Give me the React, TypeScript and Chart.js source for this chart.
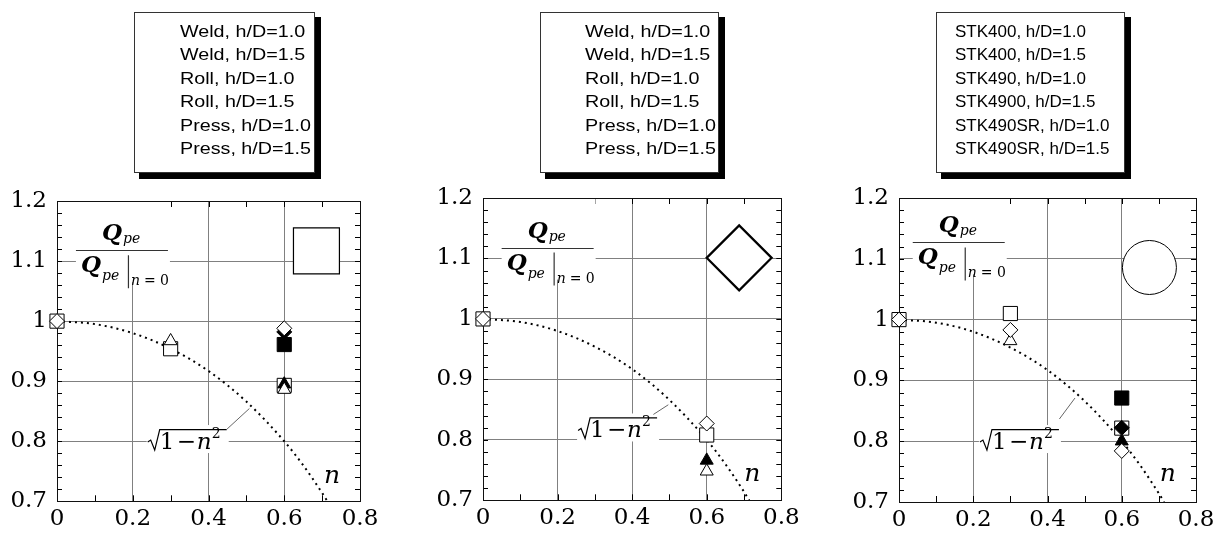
import React, { useEffect, useRef } from 'react';
import { Chart, registerables } from 'chart.js';

Chart.register(...registerables);

// ---------- axes ----------
const X_MIN = 0;
const X_MAX = 0.8;
const X_STEP = 0.2;
const X_MINOR = 0.1;
const Y_MIN = 0.7;
const Y_MAX = 1.2;
const Y_STEP = 0.1;
const Y_MINOR = 0.02;

// ---------- reference curve sqrt(1-n^2) ----------
const CURVE_N = [0, 0.1, 0.2, 0.3, 0.4, 0.5, 0.6, 0.65, 0.7, 0.714];
const CURVE_Q = [1.0, 0.995, 0.98, 0.954, 0.917, 0.866, 0.8, 0.76, 0.714, 0.7];

// ---------- panel 1 (square section) ----------
const P1_LEGEND = ['Weld, h/D=1.0', 'Weld, h/D=1.5', 'Roll, h/D=1.0', 'Roll, h/D=1.5', 'Press, h/D=1.0', 'Press, h/D=1.5'];
const P1_SQ_OPEN_N = [0, 0.3, 0.6];
const P1_SQ_OPEN_Q = [1.0, 0.954, 0.893];
const P1_SQ_FILL_N = [0.6];
const P1_SQ_FILL_Q = [0.961];
const P1_DI_OPEN_N = [0, 0.6];
const P1_DI_OPEN_Q = [1.0, 0.988];
const P1_DI_FILL_N = [0.6];
const P1_DI_FILL_Q = [0.982];
const P1_TR_OPEN_N = [0.3, 0.6];
const P1_TR_OPEN_Q = [0.967, 0.886];
const P1_TR_FILL_N = [0.6];
const P1_TR_FILL_Q = [0.895];

// ---------- panel 2 (diamond section) ----------
const P2_LEGEND = ['Weld, h/D=1.0', 'Weld, h/D=1.5', 'Roll, h/D=1.0', 'Roll, h/D=1.5', 'Press, h/D=1.0', 'Press, h/D=1.5'];
const P2_SQ_OPEN_N = [0, 0.6];
const P2_SQ_OPEN_Q = [1.0, 0.808];
const P2_SQ_FILL_N: number[] = [];
const P2_SQ_FILL_Q: number[] = [];
const P2_DI_OPEN_N = [0, 0.6];
const P2_DI_OPEN_Q = [1.0, 0.827];
const P2_DI_FILL_N: number[] = [];
const P2_DI_FILL_Q: number[] = [];
const P2_TR_OPEN_N = [0.6];
const P2_TR_OPEN_Q = [0.748];
const P2_TR_FILL_N = [0.6];
const P2_TR_FILL_Q = [0.766];

// ---------- panel 3 (circular section) ----------
const P3_LEGEND = ['STK400, h/D=1.0', 'STK400, h/D=1.5', 'STK490, h/D=1.0', 'STK4900, h/D=1.5', 'STK490SR, h/D=1.0', 'STK490SR, h/D=1.5'];
const P3_SQ_OPEN_N = [0, 0.3, 0.6];
const P3_SQ_OPEN_Q = [1.0, 1.01, 0.8215];
const P3_SQ_FILL_N = [0.6];
const P3_SQ_FILL_Q = [0.871];
const P3_DI_OPEN_N = [0, 0.3, 0.6];
const P3_DI_OPEN_Q = [1.0, 0.983, 0.784];
const P3_DI_FILL_N = [0.6];
const P3_DI_FILL_Q = [0.822];
const P3_TR_OPEN_N = [0.3];
const P3_TR_OPEN_Q = [0.965];
const P3_TR_FILL_N = [0.6];
const P3_TR_FILL_Q = [0.8];

// ---------- marker styles (series order: open sq, filled sq, open diamond, filled diamond, open tri, filled tri) ----------
const MARKERS = [
  { style: 'rect', r: 10, fill: false },
  { style: 'rect', r: 10, fill: true },
  { style: 'rectRot', r: 7.5, fill: false },
  { style: 'rectRot', r: 7.5, fill: true },
  { style: 'triangle', r: 7.5, fill: false },
  { style: 'triangle', r: 7.5, fill: true },
];

const SERIF = '"DejaVu Serif"';

const PANELS = [
  {
    left: 0,
    yw: 57, pr: 48, pt: 201, xh: 32,
    legend: { x: 134, y: 12, w: 180, h: 160, tx: 180, sx: 1.16, labels: P1_LEGEND },
    series: [
      [P1_SQ_OPEN_N, P1_SQ_OPEN_Q], [P1_SQ_FILL_N, P1_SQ_FILL_Q],
      [P1_DI_OPEN_N, P1_DI_OPEN_Q], [P1_DI_FILL_N, P1_DI_FILL_Q],
      [P1_TR_OPEN_N, P1_TR_OPEN_Q], [P1_TR_FILL_N, P1_TR_FILL_Q],
    ],
    drawOrder: [2, 3, 4, 5, 0, 1],
    shape: { style: 'rect', n: 0.685, q: 1.117, r: 32.5, bw: 1.2 },
    frac: [0.05, 1.118],
    rad: [0.2395, 0.8203],
    leader: [0.449, 0.8203, 0.508, 0.8545],
    nLabel: [0.726, 0.742],
  },
  {
    left: 408,
    yw: 75, pr: 29, pt: 198, xh: 33,
    legend: { x: 132, y: 12, w: 178, h: 160, tx: 177, sx: 1.16, labels: P2_LEGEND },
    series: [
      [P2_SQ_OPEN_N, P2_SQ_OPEN_Q], [P2_SQ_FILL_N, P2_SQ_FILL_Q],
      [P2_DI_OPEN_N, P2_DI_OPEN_Q], [P2_DI_FILL_N, P2_DI_FILL_Q],
      [P2_TR_OPEN_N, P2_TR_OPEN_Q], [P2_TR_FILL_N, P2_TR_FILL_Q],
    ],
    drawOrder: [2, 0, 1, 3, 4, 5],
    shape: { style: 'rectRot', n: 0.687, q: 1.101, r: 32.5, bw: 2.2 },
    frac: [0.05, 1.118],
    rad: [0.255, 0.837],
    leader: [0.457, 0.842, 0.497, 0.858],
    nLabel: [0.722, 0.743],
  },
  {
    left: 816,
    yw: 83, pr: 22, pt: 198, xh: 33,
    legend: { x: 120, y: 12, w: 188, h: 160, tx: 139, sx: 1.0, labels: P3_LEGEND },
    series: [
      [P3_SQ_OPEN_N, P3_SQ_OPEN_Q], [P3_SQ_FILL_N, P3_SQ_FILL_Q],
      [P3_DI_OPEN_N, P3_DI_OPEN_Q], [P3_DI_FILL_N, P3_DI_FILL_Q],
      [P3_TR_OPEN_N, P3_TR_OPEN_Q], [P3_TR_FILL_N, P3_TR_FILL_Q],
    ],
    drawOrder: [3, 2, 0, 5, 4, 1],
    shape: { style: 'circle', n: 0.6745, q: 1.0857, r: 27, bw: 1 },
    frac: [0.037, 1.127],
    rad: [0.218, 0.82],
    leader: [0.432, 0.8365, 0.474, 0.871],
    nLabel: [0.724, 0.745],
  },
];

function fmt(v: number) {
  return String(Number(v.toFixed(2)));
}

function drawFraction(ctx: CanvasRenderingContext2D, fx: number, fy: number, top: number) {
  ctx.fillStyle = '#fff';
  ctx.fillRect(fx, top + 1, 94, fy + 32 - top - 1);
  ctx.strokeStyle = '#333';
  ctx.lineWidth = 1;
  ctx.beginPath();
  ctx.moveTo(fx, Math.round(fy) + 0.5);
  ctx.lineTo(fx + 92, Math.round(fy) + 0.5);
  ctx.stroke();
  ctx.fillStyle = '#000';
  ctx.textAlign = 'left';
  ctx.textBaseline = 'alphabetic';
  ctx.font = `bold italic 23px ${SERIF}`;
  ctx.fillText('Q', fx + 26, fy - 10);
  ctx.font = `italic 14px ${SERIF}`;
  ctx.fillText('pe', fx + 47, fy - 7);
  ctx.font = `bold italic 23px ${SERIF}`;
  ctx.fillText('Q', fx + 5, fy + 22);
  ctx.font = `italic 14px ${SERIF}`;
  ctx.fillText('pe', fx + 26, fy + 30);
  ctx.lineWidth = 1.2;
  ctx.beginPath();
  ctx.moveTo(fx + 52.5, fy + 5);
  ctx.lineTo(fx + 52.5, fy + 38);
  ctx.stroke();
  ctx.font = `italic 14px ${SERIF}`;
  ctx.fillText('n', fx + 55, fy + 35);
  ctx.font = `14px ${SERIF}`;
  ctx.fillText('= 0', fx + 68, fy + 35);
}

function drawRadical(ctx: CanvasRenderingContext2D, rx: number, ry: number) {
  ctx.fillStyle = '#fff';
  ctx.fillRect(rx - 1, ry - 4, 82, 28);
  ctx.strokeStyle = '#000';
  ctx.lineWidth = 1.2;
  ctx.beginPath();
  ctx.moveTo(rx, ry + 13);
  ctx.lineTo(rx + 3, ry + 11);
  ctx.lineTo(rx + 7, ry + 21);
  ctx.lineTo(rx + 12, ry + 0.5);
  ctx.lineTo(rx + 79, ry + 0.5);
  ctx.stroke();
  ctx.fillStyle = '#000';
  ctx.textAlign = 'left';
  ctx.textBaseline = 'alphabetic';
  ctx.font = `23px ${SERIF}`;
  ctx.fillText('1', rx + 12, ry + 20);
  ctx.fillText('\u2212', rx + 29, ry + 20);
  ctx.font = `italic 23px ${SERIF}`;
  ctx.fillText('n', rx + 49, ry + 20);
  ctx.font = `14px ${SERIF}`;
  ctx.fillText('2', rx + 64, ry + 9);
}

function makeDecor(cfg: any) {
  return {
    id: 'decor',
    beforeDatasetsDraw(chart: any) {
      const { ctx, chartArea: a } = chart;
      const xs = chart.scales.x;
      const ys = chart.scales.y;
      const px = (v: number) => xs.getPixelForValue(v);
      const py = (v: number) => ys.getPixelForValue(v);
      ctx.save();
      // inward ticks
      ctx.strokeStyle = '#000';
      ctx.lineWidth = 1;
      ctx.beginPath();
      const nx = Math.round((X_MAX - X_MIN) / X_MINOR);
      for (let i = 0; i <= nx; i++) {
        const x = Math.round(px(X_MIN + i * X_MINOR)) + 0.5;
        ctx.moveTo(x, a.bottom);
        ctx.lineTo(x, a.bottom - 6);
        ctx.moveTo(x, a.top);
        ctx.lineTo(x, a.top + 6);
      }
      const ny = Math.round((Y_MAX - Y_MIN) / Y_MINOR);
      for (let i = 0; i <= ny; i++) {
        const y = Math.round(py(Y_MIN + i * Y_MINOR)) + 0.5;
        ctx.moveTo(a.left, y);
        ctx.lineTo(a.left + 5, y);
        ctx.moveTo(a.right, y);
        ctx.lineTo(a.right - 5, y);
      }
      ctx.stroke();
      // frame
      ctx.strokeStyle = '#111';
      ctx.strokeRect(Math.round(a.left) + 0.5, Math.round(a.top) + 0.5, Math.round(a.right - a.left), Math.round(a.bottom - a.top));
      // fraction label
      drawFraction(ctx, px(cfg.frac[0]), py(cfg.frac[1]), a.top);
      // radical label + leader
      drawRadical(ctx, px(cfg.rad[0]), py(cfg.rad[1]));
      ctx.strokeStyle = '#666';
      ctx.lineWidth = 1;
      ctx.beginPath();
      ctx.moveTo(px(cfg.leader[0]), py(cfg.leader[1]));
      ctx.lineTo(px(cfg.leader[2]), py(cfg.leader[3]));
      ctx.stroke();
      // n label
      ctx.fillStyle = '#000';
      ctx.font = `italic 25px ${SERIF}`;
      ctx.textAlign = 'center';
      ctx.textBaseline = 'middle';
      ctx.fillText('n', px(cfg.nLabel[0]), py(cfg.nLabel[1]));
      ctx.restore();
    },
    afterDraw(chart: any) {
      const { ctx } = chart;
      const L = cfg.legend;
      ctx.save();
      ctx.fillStyle = '#000';
      ctx.fillRect(L.x + 5, L.y + 5, L.w + 2, L.h + 2);
      ctx.fillStyle = '#fff';
      ctx.fillRect(L.x, L.y, L.w, L.h);
      ctx.strokeStyle = '#333';
      ctx.lineWidth = 1;
      ctx.strokeRect(L.x + 0.5, L.y + 0.5, L.w, L.h);
      ctx.fillStyle = '#000';
      ctx.font = '17px "Liberation Sans"';
      ctx.textAlign = 'left';
      ctx.textBaseline = 'alphabetic';
      L.labels.forEach((t: string, i: number) => {
        ctx.save();
        ctx.translate(L.tx, L.y + 24.7 + i * 23.5);
        ctx.scale(L.sx, 1);
        ctx.fillText(t, 0, 0);
        ctx.restore();
      });
      ctx.restore();
    },
  };
}

function Panel({ cfg }: { cfg: any }) {
  const ref = useRef<HTMLCanvasElement>(null);
  useEffect(() => {
    const canvas = ref.current;
    if (!canvas) return;
    const datasets: any[] = cfg.drawOrder.map((i: number) => {
      const m = MARKERS[i];
      const [ns, qs] = cfg.series[i];
      return {
        label: cfg.legend.labels[i],
        data: ns.map((n: number, k: number) => ({ x: n, y: qs[k] })),
        showLine: false,
        pointStyle: m.style,
        pointRadius: m.r,
        pointBackgroundColor: m.fill ? '#000' : '#fff',
        pointBorderColor: '#000',
        pointBorderWidth: 1,
        clip: false,
      };
    });
    datasets.push({
      label: 'section',
      data: [{ x: cfg.shape.n, y: cfg.shape.q }],
      showLine: false,
      pointStyle: cfg.shape.style,
      pointRadius: cfg.shape.r,
      pointBackgroundColor: '#fff',
      pointBorderColor: '#000',
      pointBorderWidth: cfg.shape.bw,
      clip: false,
    });
    datasets.push({
      label: 'sqrt(1-n^2)',
      data: CURVE_N.map((n, k) => ({ x: n, y: CURVE_Q[k] })),
      showLine: true,
      borderColor: '#000',
      borderWidth: 2,
      borderDash: [2, 4],
      pointRadius: 0,
      cubicInterpolationMode: 'monotone',
      fill: false,
    });
    const chart = new Chart(canvas, {
      type: 'scatter',
      data: { datasets },
      options: {
        animation: false,
        responsive: false,
        events: [],
        layout: { padding: { left: 0, right: cfg.pr, top: cfg.pt, bottom: 0 } },
        plugins: { legend: { display: false }, tooltip: { enabled: false } },
        scales: {
          x: {
            type: 'linear',
            min: X_MIN,
            max: X_MAX,
            afterFit: (s: any) => { s.height = cfg.xh; },
            grid: { color: '#808080', lineWidth: 1, drawTicks: false },
            border: { display: false },
            ticks: {
              stepSize: X_STEP,
              padding: 4,
              color: '#000',
              font: { family: 'DejaVu Serif', size: 23 },
              callback: (v: any) => fmt(Number(v)),
            },
          },
          y: {
            type: 'linear',
            min: Y_MIN,
            max: Y_MAX,
            afterFit: (s: any) => { s.width = cfg.yw; },
            grid: { color: '#808080', lineWidth: 1, drawTicks: false },
            border: { display: false },
            ticks: {
              stepSize: Y_STEP,
              padding: 10,
              color: '#000',
              font: { family: 'DejaVu Serif', size: 23 },
              callback: (v: any) => fmt(Number(v)),
            },
          },
        },
      },
      plugins: [makeDecor(cfg)],
    } as any);
    return () => chart.destroy();
  }, [cfg]);
  return (
    <canvas
      ref={ref}
      width={408}
      height={535}
      style={{ position: 'absolute', left: cfg.left, top: 0, width: 408, height: 535, display: 'block' }}
    />
  );
}

export default function App() {
  return (
    <div style={{ position: 'absolute', left: 0, top: 0, width: 1224, height: 535, background: '#fff', overflow: 'hidden' }}>
      {PANELS.map((p, i) => (
        <Panel key={i} cfg={p} />
      ))}
    </div>
  );
}
